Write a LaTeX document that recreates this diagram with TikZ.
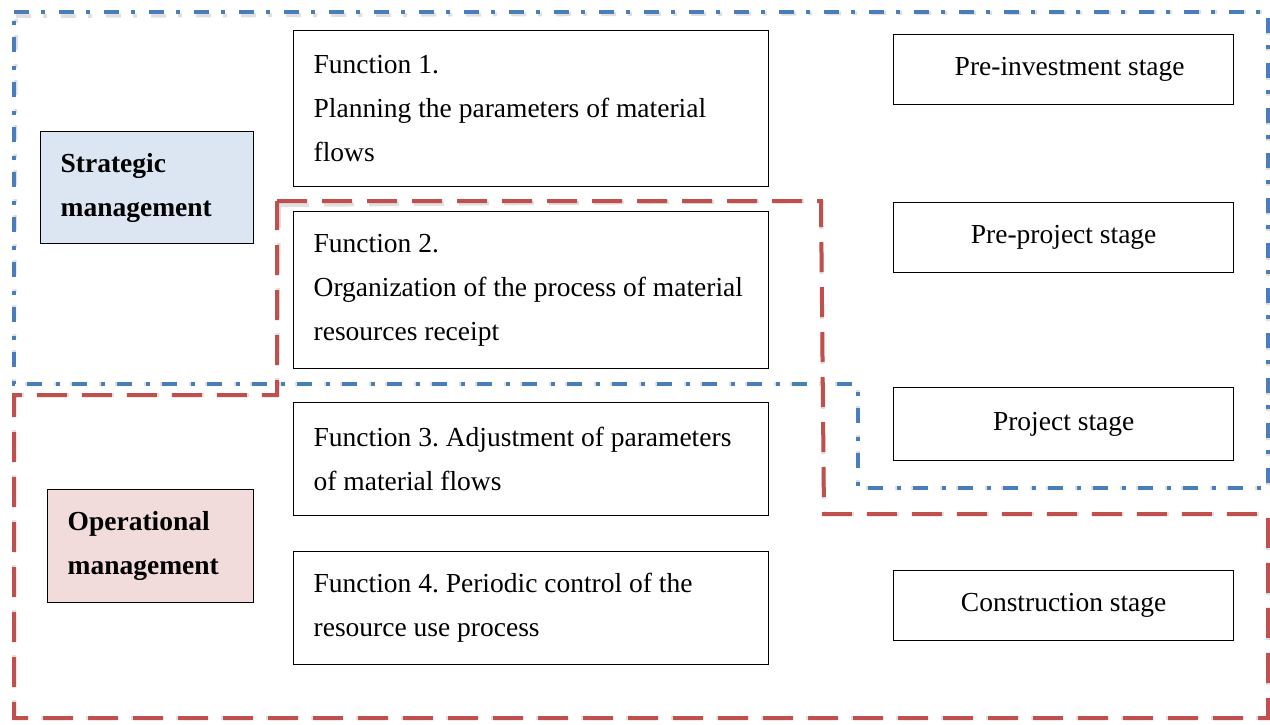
\documentclass[tikz,border=0pt]{standalone}
\usepackage{fontspec}
\setmainfont{Liberation Serif}
\definecolor{bluedd}{HTML}{4A7EBB}
\definecolor{reddash}{HTML}{C0504D}
\definecolor{stratfill}{HTML}{DCE6F2}
\definecolor{opfill}{HTML}{F2DCDB}
\begin{document}
\frenchspacing
\hyphenpenalty=10000
\begin{tikzpicture}[x=1pt,y=-1pt,
  txt/.style={font=\fontsize{27.5}{44}\selectfont},
  boxbase/.style={draw=black, line width=1.3pt, fill=white, inner ysep=0pt, anchor=north west, txt},
  funcbox/.style={boxbase, minimum width=475pt, text width=435pt, inner xsep=20pt, align=flush left},
  stagebox/.style={boxbase, minimum width=340pt, minimum height=70pt, align=center},
  mgmtbox/.style={boxbase, inner xsep=20pt, align=flush left, font=\fontsize{27.5}{44}\selectfont\bfseries},
  blueline/.style={draw=bluedd, line width=4pt, dash pattern=on 15pt off 12pt on 4pt off 14pt},
  redline/.style={draw=reddash, line width=4pt, dash pattern=on 30pt off 15pt},
  shadowline/.style={draw=black, opacity=0.12, line width=6pt, line join=round}
]
\useasboundingbox (0,0) rectangle (1270,724);

% shadows
\draw[shadowline, blueline, draw=black, opacity=0.12] ([shift={(2,4)}]14,12) -- (1268,12) -- (1268,488) -- (858,488) -- (858,384) -- (14,384) -- cycle;
\draw[shadowline, redline, draw=black, opacity=0.12] ([shift={(2,4)}]277,201) -- (821,201) -- (824,514) -- (1268,514) -- (1268,718) -- (14,718) -- (14,395) -- (277,395) -- cycle;

% blue dash-dot region (strategic)
\draw[blueline] (14,12) -- (1268,12) -- (1268,488) -- (858,488) -- (858,384) -- (14,384) -- cycle;
% red dashed region (operational)
\draw[redline] (277,201) -- (821,201) -- (824,514) -- (1268,514) -- (1268,718) -- (14,718) -- (14,395) -- (277,395) -- cycle;

% management boxes
\node[mgmtbox, fill=stratfill, minimum width=213pt, minimum height=112pt, text width=173pt] (strat) at (40,131) {Strategic\\management};
\node[mgmtbox, fill=opfill, minimum width=206pt, minimum height=113pt, text width=166pt] (oper) at (47,489) {Operational\\management};

% function boxes
\node[funcbox, minimum height=156pt] (f1) at (293,30) {Function 1.\\Planning the parameters of material\\flows};
\node[funcbox, minimum height=157pt] (f2) at (293,211) {Function 2.\\Organization of the process of material\\resources receipt};
\node[funcbox, minimum height=113pt] (f3) at (293,402) {Function 3. Adjustment of parameters\\of material flows};
\node[funcbox, minimum height=113pt] (f4) at (293,551) {Function 4. Periodic control of the\\resource use process};

% stage boxes
\node[stagebox] (s1) at (893,34) {\hspace*{12pt}Pre-investment stage};
\node[stagebox] (s2) at (893,202) {Pre-project stage};
\node[stagebox, minimum height=73pt] (s3) at (893,387) {Project stage};
\node[stagebox] (s4) at (893,570) {Construction stage};
\end{tikzpicture}
\end{document}
